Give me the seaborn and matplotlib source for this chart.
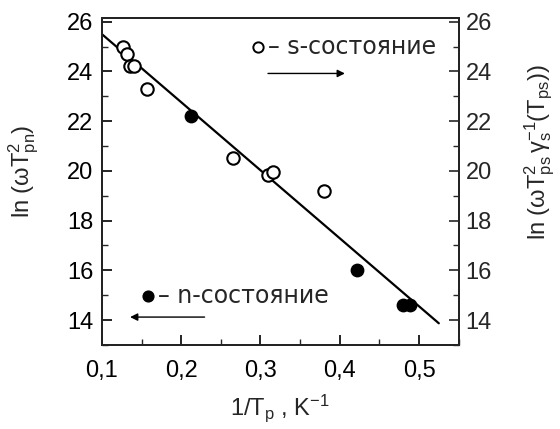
import matplotlib
matplotlib.use("Agg")
import matplotlib.pyplot as plt
import seaborn as sns
import pandas as pd
from matplotlib.ticker import MultipleLocator, FuncFormatter

# Data
s_x = [0.127, 0.132, 0.136, 0.140, 0.157, 0.265, 0.309, 0.316, 0.380]
s_y = [25.0, 24.7, 24.2, 24.2, 23.3, 20.5, 19.85, 19.95, 19.2]
n_x = [0.212, 0.422, 0.480, 0.489]
n_y = [22.2, 16.0, 14.6, 14.62]
fit_x = [0.100, 0.525]
fit_y = [25.5, 13.87]

x_label = r"1/T$_\mathregular{p}$ , K$^\mathregular{-1}$"
y_left_label = r"ln ($\mathregular{\omega T^2_{pn}}$)"
y_right_label = r"ln ($\mathregular{\omega T^2_{ps}\,\gamma_s^{-1}(T_{ps})}$)"
s_legend = "– s-состояние"
n_legend = "– n-состояние"

sns.set_style("ticks")
plt.rcParams["font.family"] = ["Liberation Sans", "DejaVu Sans"]
plt.rcParams["mathtext.fontset"] = "custom"
plt.rcParams["mathtext.rm"] = "Liberation Sans"
plt.rcParams["mathtext.it"] = "Liberation Sans"
plt.rcParams["mathtext.bf"] = "Liberation Sans:bold"

fig = plt.figure(figsize=(5.6, 4.29), dpi=100)
ax = fig.add_axes([0.182, 0.196, 0.637, 0.762])

df_s = pd.DataFrame({"x": s_x, "y": s_y})
df_n = pd.DataFrame({"x": n_x, "y": n_y})
df_fit = pd.DataFrame({"x": fit_x, "y": fit_y})

sns.lineplot(data=df_fit, x="x", y="y", ax=ax, color="black", lw=1.6)
sns.scatterplot(data=df_s, x="x", y="y", ax=ax, s=80, facecolor="white",
                edgecolor="black", linewidth=1.5, zorder=3)
sns.scatterplot(data=df_n, x="x", y="y", ax=ax, s=80, color="black",
                edgecolor="black", linewidth=1.0, zorder=3)

ax.set_xlim(0.1, 0.55)
ax.set_ylim(13.0, 26.15)
comma = FuncFormatter(lambda v, p: f"{v:.1f}".replace(".", ","))
ax.xaxis.set_major_locator(MultipleLocator(0.1))
ax.xaxis.set_minor_locator(MultipleLocator(0.05))
ax.xaxis.set_major_formatter(comma)
ax.yaxis.set_major_locator(MultipleLocator(2))
ax.yaxis.set_minor_locator(MultipleLocator(1))
ax.yaxis.set_major_formatter(FuncFormatter(lambda v, p: f"{v:.0f}"))

for sp in ax.spines.values():
    sp.set_linewidth(1.3)
    sp.set_color("black")

ax.tick_params(axis="both", which="major", direction="in", length=7, width=1.2,
               labelsize=17, colors="black")
ax.tick_params(axis="x", which="major", pad=11)
ax.tick_params(axis="y", which="major", pad=6)
ax.tick_params(axis="both", which="minor", direction="in", length=4, width=1.0)
ax.tick_params(axis="x", top=False, which="both")

ax.set_xlabel(x_label, fontsize=17, labelpad=7)
ax.set_ylabel(y_left_label, fontsize=17)
ax.yaxis.set_label_coords(-0.172, 0.53)

ax2 = ax.twinx()
ax2.set_ylim(ax.get_ylim())
ax2.yaxis.set_major_locator(MultipleLocator(2))
ax2.yaxis.set_minor_locator(MultipleLocator(1))
ax2.yaxis.set_major_formatter(FuncFormatter(lambda v, p: f"{v:.0f}"))
ax2.tick_params(axis="y", which="major", direction="in", length=7, width=1.2,
                labelsize=17, pad=5)
ax2.tick_params(axis="y", which="minor", direction="in", length=4, width=1.0)
ax2.set_ylabel(y_right_label, fontsize=17)
ax2.yaxis.set_label_coords(1.18, 0.59)
for sp in ax2.spines.values():
    sp.set_linewidth(1.3)

# legend annotations
leg_font = dict(fontsize=17, family=["DejaVu Sans"], va="center", ha="left")
ax.scatter([0.297], [25.0], s=55, facecolor="white", edgecolor="black",
           linewidth=1.4, zorder=3)
ax.text(0.309, 25.0, s_legend, **leg_font)
ax.annotate("", xy=(0.41, 23.92), xytext=(0.306, 23.92),
            arrowprops=dict(arrowstyle="-|>", color="black", lw=1.0,
                            mutation_scale=11))
ax.scatter([0.158], [14.96], s=60, color="black", zorder=3)
ax.text(0.171, 14.96, n_legend, **leg_font)
ax.annotate("", xy=(0.132, 14.12), xytext=(0.233, 14.12),
            arrowprops=dict(arrowstyle="-|>", color="black", lw=1.0,
                            mutation_scale=11))

fig.savefig("out.png", dpi=100)
